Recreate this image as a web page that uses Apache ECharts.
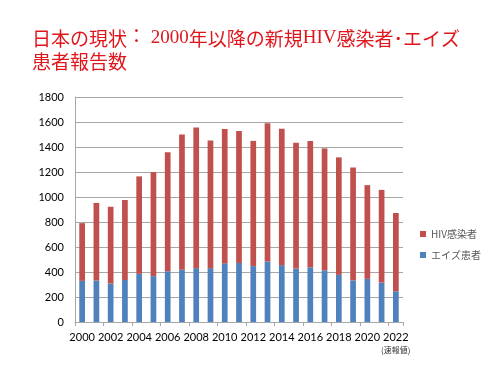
<!DOCTYPE html>
<html>
<head>
<meta charset="utf-8">
<script src="https://cdn.jsdelivr.net/npm/echarts@6/dist/echarts.min.js"></script>
<style>
  html, body { margin: 0; padding: 0; background: #fff; }
  #chart { width: 500px; height: 375px; }
</style>
</head>
<body>
<div id="chart"></div>
<script>
// 報告年
const years = ['2000', '2001', '2002', '2003', '2004', '2005', '2006', '2007', '2008', '2009', '2010', '2011',
  '2012', '2013', '2014', '2015', '2016', '2017', '2018', '2019', '2020', '2021', '2022'];
// エイズ患者 (下段)
const aidsCases = [329, 332, 308, 336, 385, 367, 406, 418, 431, 431, 469, 473,
  447, 484, 455, 428, 437, 413, 377, 333, 345, 315, 246];
// HIV感染者 (上段)
const hivCases = [462, 621, 614, 640, 780, 832, 952, 1082, 1126, 1021, 1075, 1056,
  1002, 1106, 1091, 1006, 1011, 976, 940, 903, 750, 742, 626];
const yTicks = [0, 200, 400, 600, 800, 1000, 1200, 1400, 1600, 1800];

const myChart = echarts.init(document.getElementById('chart'));

const option = {
  animation: false,
  title: {
    text: '日本の現状{s|： 2000}年以降の新規{s|HIV}感染者･エイズ\n患者報告数',
    left: 32,
    top: 27,
    padding: 0,
    textStyle: {
      color: '#e0161d',
      fontSize: 19,
      fontWeight: 'normal',
      fontFamily: 'Noto Sans CJK JP',
      lineHeight: 23,
      rich: {
        s: {
          color: '#e0161d',
          fontSize: 19,
          fontFamily: 'Liberation Serif, Noto Sans CJK JP',
          lineHeight: 23
        }
      }
    }
  },
  legend: {
    data: ['HIV感染者', 'エイズ患者'],
    orient: 'vertical',
    left: 420,
    top: 229,
    padding: 0,
    itemWidth: 6,
    itemHeight: 6,
    itemGap: 11,
    icon: 'rect',
    textStyle: {
      color: '#595959',
      fontSize: 10,
      fontFamily: 'Noto Sans CJK JP'
    }
  },
  grid: {
    left: 75,
    right: 97,
    top: 97,
    bottom: 53
  },
  xAxis: {
    type: 'category',
    data: years,
    axisLine: { lineStyle: { color: '#a6a6a6' } },
    axisTick: { show: true, length: 4, lineStyle: { color: '#a6a6a6' } },
    axisLabel: {
      interval: 1,
      showMaxLabel: true,
      color: '#000',
      fontSize: 11,
      fontFamily: 'Lato',
      margin: 10
    }
  },
  yAxis: {
    type: 'value',
    min: 0,
    max: 1800,
    interval: yTicks[1] - yTicks[0],
    axisLine: { show: true, lineStyle: { color: '#a6a6a6' } },
    axisTick: { show: false },
    splitLine: { lineStyle: { color: '#a6a6a6' } },
    axisLabel: {
      color: '#000',
      fontSize: 11,
      fontFamily: 'Lato',
      margin: 11,
      formatter: function (v) { return String(v); }
    }
  },
  graphic: [
    {
      type: 'text',
      left: 381,
      top: 346,
      style: {
        text: '(速報値)',
        fontSize: 8,
        fill: '#333',
        fontFamily: 'Noto Sans CJK JP'
      }
    }
  ],
  series: [
    {
      name: 'エイズ患者',
      type: 'bar',
      stack: 'total',
      data: aidsCases,
      barWidth: '40%',
      itemStyle: { color: '#4f81bd' }
    },
    {
      name: 'HIV感染者',
      type: 'bar',
      stack: 'total',
      data: hivCases,
      barWidth: '40%',
      itemStyle: { color: '#c0504d' }
    }
  ]
};

myChart.setOption(option);
</script>
</body>
</html>
